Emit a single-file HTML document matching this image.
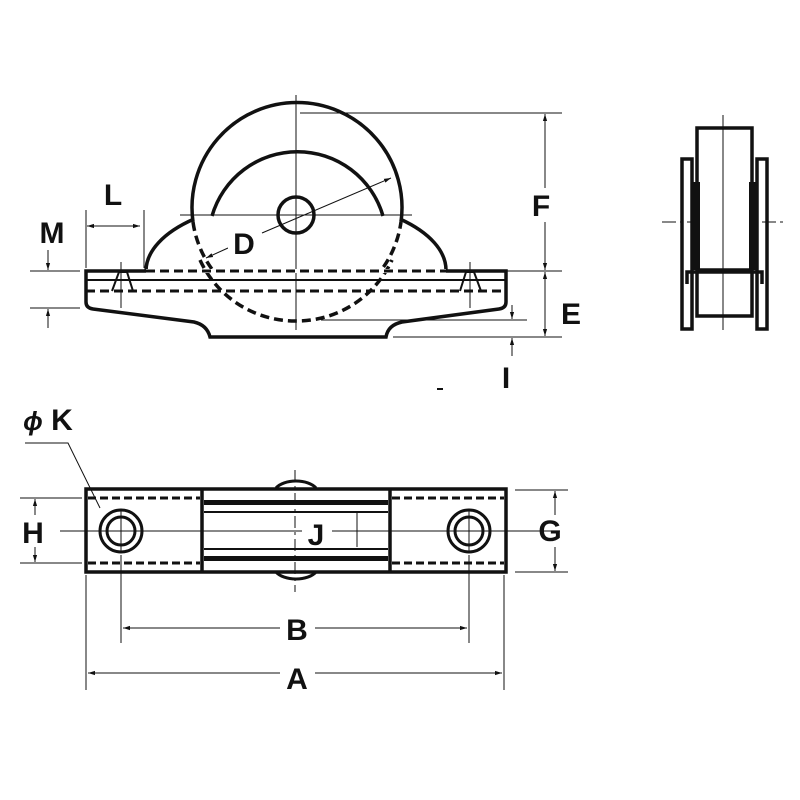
<!DOCTYPE html>
<html><head><meta charset="utf-8"><style>
html,body{margin:0;padding:0;background:#fff}
svg{display:block}
text{font-family:"Liberation Sans",Arial,sans-serif;font-weight:bold;font-size:30px;fill:#111;text-anchor:middle}
</style></head><body>
<svg width="800" height="800" viewBox="0 0 800 800" xmlns="http://www.w3.org/2000/svg">
<defs>
<marker id="a" viewBox="0 0 10 10" refX="10" refY="5" markerWidth="7" markerHeight="7" orient="auto-start-reverse"><path d="M0,2 L10,5 L0,8 z" fill="#111"/></marker>
</defs>
<g fill="none" stroke="#111">
<!-- ===== FRONT VIEW ===== -->
<line x1="296" y1="95" x2="296" y2="330" stroke-width="1"/>
<line x1="180" y1="215" x2="412" y2="215" stroke-width="1"/>
<path d="M193,222 A105,105 0 1 1 401,222" stroke-width="3.5"/>
<path d="M193,222 A105,105 0 0 0 401,222" stroke-width="3.5" stroke-dasharray="9,5"/>
<path d="M212,216 A89,89 0 0 1 383,216" stroke-width="3.5"/>
<circle cx="296" cy="215" r="18" stroke-width="3.5"/>
<path d="M146,271 A150,71 0 0 1 194,219" stroke-width="3.5"/>
<path d="M400,219 A150,71 0 0 1 446,271" stroke-width="3.5"/>
<line x1="262" y1="233" x2="391" y2="178" stroke-width="1" marker-end="url(#a)"/>
<line x1="228" y1="248" x2="206" y2="258" stroke-width="1" marker-end="url(#a)"/>
<path d="M86,271 L506,271 L506,302 Q506,308 499,309 L402,322 Q388,325 386,337 L210,337 Q207,325 194,322 L93,309 Q86,308 86,302 Z" stroke-width="3.5" fill="#fff"/>
<path d="M296,271 L296,330" stroke-width="1"/>
<path d="M200,260 A105,105 0 0 0 296,321 A105,105 0 0 0 392,260" stroke-width="3.5" stroke-dasharray="9,5"/>
<line x1="146" y1="271" x2="446" y2="271" stroke="#fff" stroke-width="4"/>
<line x1="146" y1="271" x2="446" y2="271" stroke-width="3" stroke-dasharray="9,5"/>
<line x1="86" y1="280" x2="506" y2="280" stroke-width="2"/>
<line x1="86" y1="291" x2="506" y2="291" stroke-width="3" stroke-dasharray="9,5"/>
<path d="M112,291 L119,272 L127,272 L133,291" stroke-width="2"/>
<line x1="121" y1="262" x2="121" y2="308" stroke-width="1"/>
<path d="M460,291 L466,272 L474,272 L481,291" stroke-width="2"/>
<line x1="470" y1="262" x2="470" y2="308" stroke-width="1"/>
<line x1="30" y1="271" x2="80" y2="271" stroke-width="1"/>
<line x1="30" y1="308" x2="80" y2="308" stroke-width="1"/>
<line x1="48" y1="250" x2="48" y2="270" stroke-width="1" marker-end="url(#a)"/>
<line x1="48" y1="328" x2="48" y2="309" stroke-width="1" marker-end="url(#a)"/>
<line x1="86" y1="210" x2="86" y2="268" stroke-width="1"/>
<line x1="144" y1="210" x2="144" y2="268" stroke-width="1"/>
<line x1="87" y1="226" x2="140" y2="226" stroke-width="1" marker-start="url(#a)" marker-end="url(#a)"/>
<line x1="300" y1="113" x2="562" y2="113" stroke-width="1"/>
<line x1="506" y1="271" x2="562" y2="271" stroke-width="1"/>
<line x1="393" y1="337" x2="562" y2="337" stroke-width="1"/>
<line x1="545" y1="114" x2="545" y2="270" stroke-width="1" marker-start="url(#a)" marker-end="url(#a)"/>
<line x1="545" y1="272" x2="545" y2="336" stroke-width="1" marker-start="url(#a)" marker-end="url(#a)"/>
<line x1="321" y1="320" x2="527" y2="320" stroke-width="1"/>
<line x1="512" y1="305" x2="512" y2="319" stroke-width="1" marker-end="url(#a)"/>
<line x1="512" y1="356" x2="512" y2="338" stroke-width="1" marker-end="url(#a)"/>
<line x1="437" y1="389" x2="443" y2="389" stroke-width="2"/>

<!-- ===== SIDE VIEW ===== -->
<line x1="662" y1="222" x2="786" y2="222" stroke-width="1" stroke-dasharray="14,4,3,4"/>
<rect x="697" y="128" width="55" height="188" stroke-width="3.5" fill="#fff"/>
<rect x="682" y="159" width="10" height="170" stroke-width="3.5"/>
<rect x="757" y="159" width="10" height="170" stroke-width="3.5"/>
<rect x="692" y="182" width="8" height="88" fill="#111" stroke="none"/>
<rect x="749" y="182" width="8" height="88" fill="#111" stroke="none"/>
<path d="M687,284 L687,272 L762,272 L762,284" stroke-width="3.5"/>
<line x1="697" y1="270" x2="752" y2="270" stroke-width="3.5"/>
<line x1="723" y1="115" x2="723" y2="330" stroke-width="1"/>

<!-- ===== TOP VIEW ===== -->
<path d="M276,488 A22,12 0 0 1 316,488" stroke-width="3" fill="#fff"/>
<path d="M276,572 A22,12 0 0 0 316,572" stroke-width="3" fill="#fff"/>
<rect x="86" y="489" width="420" height="83" stroke-width="3.5" fill="#fff"/>
<line x1="202" y1="489" x2="202" y2="572" stroke-width="3.5"/>
<line x1="390" y1="489" x2="390" y2="572" stroke-width="3.5"/>
<line x1="88" y1="498" x2="200" y2="498" stroke-width="3" stroke-dasharray="8,4"/>
<line x1="392" y1="498" x2="504" y2="498" stroke-width="3" stroke-dasharray="8,4"/>
<line x1="88" y1="563" x2="200" y2="563" stroke-width="3" stroke-dasharray="8,4"/>
<line x1="392" y1="563" x2="504" y2="563" stroke-width="3" stroke-dasharray="8,4"/>
<rect x="204" y="500" width="184" height="5" fill="#111" stroke="none"/>
<rect x="204" y="556" width="184" height="5" fill="#111" stroke="none"/>
<line x1="204" y1="512" x2="388" y2="512" stroke-width="2"/>
<line x1="204" y1="549" x2="388" y2="549" stroke-width="2"/>
<line x1="60" y1="531" x2="560" y2="531" stroke-width="1"/>
<line x1="295" y1="470" x2="295" y2="592" stroke-width="1" stroke-dasharray="12,4,3,4"/>
<circle cx="121" cy="531" r="21" stroke-width="3" fill="#fff"/>
<circle cx="121" cy="531" r="14" stroke-width="3"/>
<circle cx="469" cy="531" r="21" stroke-width="3" fill="#fff"/>
<circle cx="469" cy="531" r="14" stroke-width="3"/>
<line x1="121" y1="510" x2="121" y2="552" stroke-width="1"/>
<line x1="469" y1="510" x2="469" y2="552" stroke-width="1"/>
<line x1="100" y1="531" x2="142" y2="531" stroke-width="1"/>
<line x1="448" y1="531" x2="490" y2="531" stroke-width="1"/>
<line x1="357" y1="513" x2="357" y2="547" stroke-width="1"/>
<path d="M25,443 L68,443 L100,508" stroke-width="1"/>
<line x1="20" y1="498" x2="82" y2="498" stroke-width="1"/>
<line x1="20" y1="563" x2="82" y2="563" stroke-width="1"/>
<line x1="35" y1="515" x2="35" y2="499" stroke-width="1" marker-end="url(#a)"/>
<line x1="35" y1="547" x2="35" y2="562" stroke-width="1" marker-end="url(#a)"/>
<line x1="515" y1="490" x2="568" y2="490" stroke-width="1"/>
<line x1="515" y1="572" x2="568" y2="572" stroke-width="1"/>
<line x1="555" y1="515" x2="555" y2="491" stroke-width="1" marker-end="url(#a)"/>
<line x1="555" y1="547" x2="555" y2="571" stroke-width="1" marker-end="url(#a)"/>
<line x1="121" y1="555" x2="121" y2="643" stroke-width="1"/>
<line x1="469" y1="555" x2="469" y2="643" stroke-width="1"/>
<line x1="280" y1="628" x2="123" y2="628" stroke-width="1" marker-end="url(#a)"/>
<line x1="315" y1="628" x2="467" y2="628" stroke-width="1" marker-end="url(#a)"/>
<line x1="86" y1="575" x2="86" y2="690" stroke-width="1"/>
<line x1="504" y1="575" x2="504" y2="690" stroke-width="1"/>
<line x1="280" y1="673" x2="88" y2="673" stroke-width="1" marker-end="url(#a)"/>
<line x1="315" y1="673" x2="502" y2="673" stroke-width="1" marker-end="url(#a)"/>
</g>
<rect x="228" y="228" width="32" height="32" fill="#fff"/>
<text x="244" y="254">D</text>
<text x="113" y="205">L</text>
<text x="52" y="243">M</text>
<rect x="530" y="188" width="24" height="34" fill="#fff"/>
<text x="541" y="216">F</text>
<text x="571" y="324">E</text>
<text x="506" y="388">I</text>
<text x="48" y="430"><tspan font-style="italic" font-size="26">ϕ</tspan> K</text>
<text x="33" y="543">H</text>
<rect x="302" y="517" width="30" height="30" fill="#fff"/>
<text x="316" y="545">J</text>
<text x="550" y="541">G</text>
<text x="297" y="640">B</text>
<text x="297" y="689">A</text>
</svg>
</body></html>
